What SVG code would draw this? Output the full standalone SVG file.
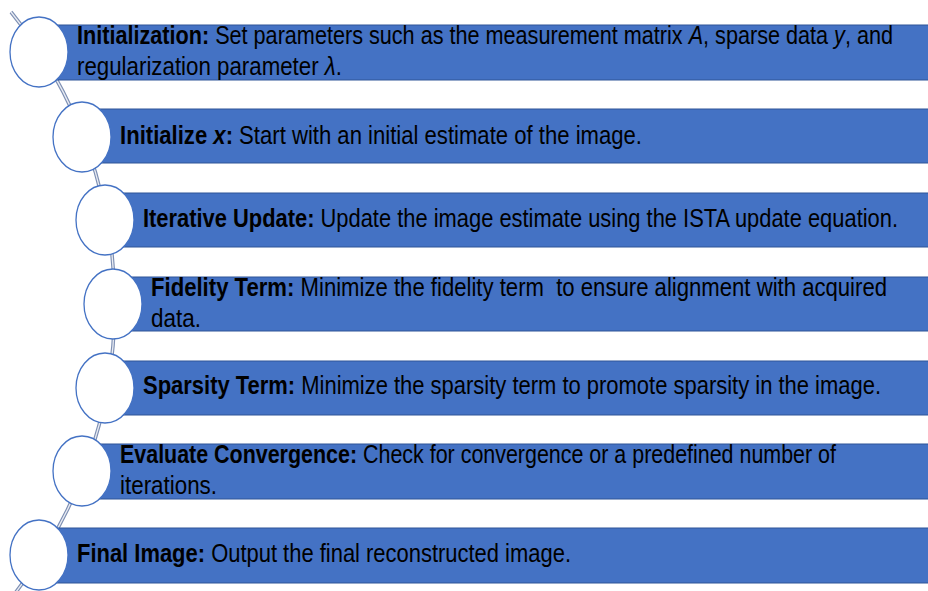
<svg xmlns="http://www.w3.org/2000/svg" width="928" height="591" viewBox="0 0 928 591">
<style>
.bar{fill:#4472c4;stroke:#2f5597;stroke-width:1}
.node{fill:#ffffff;stroke:#4472c4;stroke-width:1.3}
.t{font-family:"Liberation Sans Narrow","Liberation Sans",Arial,sans-serif;font-size:25px;fill:#000000}
.b{font-weight:bold}
.i{font-style:italic}
.linkOuter{fill:none;stroke:#7d8fb3;stroke-width:3.6}
.linkInner{fill:none;stroke:#e9ecf3;stroke-width:1.3}
</style>
<rect width="928" height="591" fill="#ffffff"/>
<g id="connectors">
<path class="linkOuter" d="M 11 12 A 466 466 0 0 1 12 597"/>
<path class="linkInner" d="M 11 12 A 466 466 0 0 1 12 597"/>
</g>
<g id="node1">
<rect class="bar" x="39" y="25" width="895" height="55"/>
<ellipse class="node" cx="39" cy="52" rx="29" ry="35"/>
<text class="t" x="77" y="44" textLength="816" lengthAdjust="spacingAndGlyphs"><tspan class="b">Initialization:</tspan> Set parameters such as the measurement matrix <tspan class="i">A</tspan>, sparse data <tspan class="i">y</tspan>, and</text>
<text class="t" x="77" y="75" textLength="265" lengthAdjust="spacingAndGlyphs">regularization parameter <tspan class="i">λ</tspan>.</text>
</g>
<g id="node2">
<rect class="bar" x="82" y="109" width="852" height="54"/>
<ellipse class="node" cx="82" cy="137" rx="29" ry="35"/>
<text class="t" x="120" y="144" textLength="522" lengthAdjust="spacingAndGlyphs"><tspan class="b">Initialize <tspan class="i">x</tspan>:</tspan> Start with an initial estimate of the image.</text>
</g>
<g id="node3">
<rect class="bar" x="105" y="193" width="829" height="54"/>
<ellipse class="node" cx="105" cy="220" rx="29" ry="35"/>
<text class="t" x="143" y="227" textLength="755" lengthAdjust="spacingAndGlyphs"><tspan class="b">Iterative Update:</tspan> Update the image estimate using the ISTA update equation.</text>
</g>
<g id="node4">
<rect class="bar" x="113" y="277" width="821" height="54"/>
<ellipse class="node" cx="113" cy="304" rx="29" ry="35"/>
<text class="t" x="151" y="296" textLength="736" lengthAdjust="spacingAndGlyphs"><tspan class="b">Fidelity Term:</tspan> Minimize the fidelity term&#160; to ensure alignment with acquired</text>
<text class="t" x="151" y="327" textLength="50" lengthAdjust="spacingAndGlyphs">data.</text>
</g>
<g id="node5">
<rect class="bar" x="105" y="361" width="829" height="54"/>
<ellipse class="node" cx="105" cy="388" rx="29" ry="35"/>
<text class="t" x="143" y="394" textLength="738" lengthAdjust="spacingAndGlyphs"><tspan class="b">Sparsity Term:</tspan> Minimize the sparsity term to promote sparsity in the image.</text>
</g>
<g id="node6">
<rect class="bar" x="82" y="444" width="852" height="55"/>
<ellipse class="node" cx="82" cy="471" rx="29" ry="35"/>
<text class="t" x="120" y="463" textLength="716" lengthAdjust="spacingAndGlyphs"><tspan class="b">Evaluate Convergence:</tspan> Check for convergence or a predefined number of</text>
<text class="t" x="120" y="494" textLength="97" lengthAdjust="spacingAndGlyphs">iterations.</text>
</g>
<g id="node7">
<rect class="bar" x="39" y="528" width="895" height="55"/>
<ellipse class="node" cx="39" cy="555" rx="29" ry="35"/>
<text class="t" x="77" y="562" textLength="494" lengthAdjust="spacingAndGlyphs"><tspan class="b">Final Image:</tspan> Output the final reconstructed image.</text>
</g>
</svg>
